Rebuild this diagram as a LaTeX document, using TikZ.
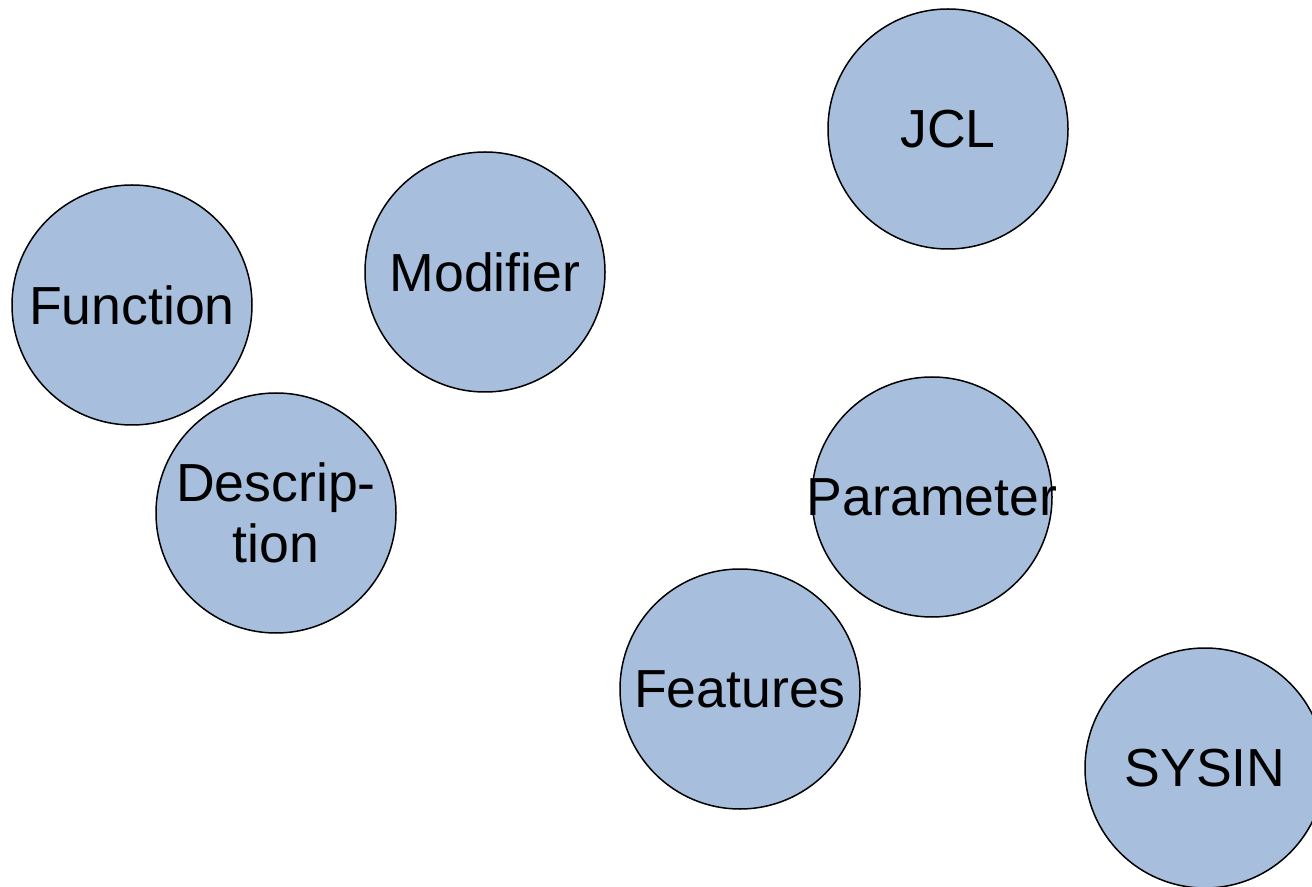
\documentclass[tikz,border=0pt]{standalone}
\usepackage{fontspec}
\setmainfont{Liberation Sans}
\definecolor{bubblefill}{HTML}{A7BFDD}
\begin{document}
\begin{tikzpicture}[x=0.5pt,y=-0.5pt,
  bubble/.style={circle,draw=black,line width=0.75pt,fill=bubblefill,
    minimum size=120pt,inner sep=0pt,align=center,
    font=\fontsize{26.8pt}{30.5pt}\selectfont}]
\useasboundingbox (0,0) rectangle (1312,887);
\clip (0,0) rectangle (1312,887);
\node[bubble] (jcl)  at (948,129) {JCL};
\node[bubble] (mod)  at (485,272) {Modifier};
\node[bubble] (fun)  at (132,305) {Function};
\node[bubble] (desc) at (276,513) {Descrip-\\tion};
% the label is wider than the circle and spills over its rim
\node[bubble] (par)  at (932,497) {\makebox[0pt]{Parameter}};
\node[bubble] (feat) at (740,689) {Features};
\node[bubble] (sys)  at (1205,768) {SYSIN};
\end{tikzpicture}
\end{document}
